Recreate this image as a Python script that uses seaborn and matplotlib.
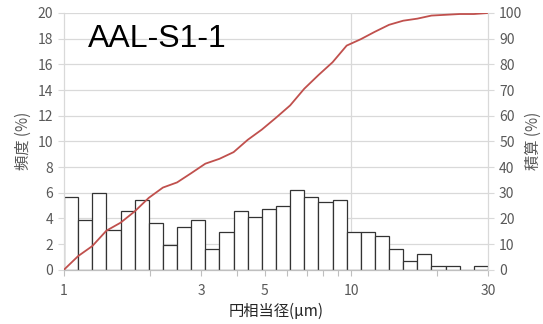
import numpy as np
import pandas as pd
import matplotlib
matplotlib.use("Agg")
import matplotlib.pyplot as plt
import seaborn as sns
from matplotlib.ticker import FixedLocator, FixedFormatter, NullFormatter, NullLocator

sns.set_theme(style="white")
plt.rcParams["font.family"] = ["Noto Sans CJK JP", "DejaVu Sans"]
plt.rcParams["axes.grid"] = False

# Particle size distribution (equivalent circle diameter, 1-30 µm, 30 log bins)
sample_name = "AAL-S1-1"
frequency = [5.7, 3.85, 6.0, 3.1, 4.55, 5.45, 3.65, 1.9, 3.35, 3.85,
             1.65, 2.9, 4.55, 4.1, 4.75, 5.0, 6.2, 5.7, 5.25, 5.45,
             2.9, 2.9, 2.65, 1.65, 0.7, 1.25, 0.25, 0.25, 0.0, 0.25]
cumulative = [0, 5.3, 9.2, 15.2, 18.3, 22.7, 28.0, 32.0, 34.0, 37.6,
              41.3, 43.2, 45.8, 50.6, 54.6, 59.2, 64.0, 70.5, 75.8, 80.8,
              87.3, 89.8, 92.7, 95.4, 97.0, 97.8, 99.0, 99.3, 99.6, 99.6, 100.0]
x_tick_labels = ["1", "3", "5", "10", "30"]
x_tick_values = [1, 3, 5, 10, 30]
x_minor_ticks = [2, 4, 6, 7, 8, 9, 20]
y_freq_ticks = list(range(0, 21, 2))
y_cum_ticks = list(range(0, 101, 10))

d_min, d_max, n_bins = 1.0, 30.0, len(frequency)
log_edges = np.linspace(np.log10(d_min), np.log10(d_max), n_bins + 1)
edges = 10 ** log_edges
centers = np.sqrt(edges[:-1] * edges[1:])

hist_df = pd.DataFrame({"diameter": centers, "freq": frequency})
cum_df = pd.DataFrame({"diameter": edges, "cum": cumulative})

grid_c = "#D9D9D9"
tick_c = "#595959"
rect = [64 / 543, 1 - 269.7 / 324, 424 / 543, 256.7 / 324]

fig = plt.figure(figsize=(5.43, 3.24), dpi=100)
ax = fig.add_axes(rect)

# frequency histogram (left axis)
sns.histplot(data=hist_df, x="diameter", weights="freq", bins=list(log_edges),
             log_scale=True, stat="count", fill=True, color="white",
             edgecolor="#333333", linewidth=0.9, alpha=1.0, ax=ax, zorder=2)

ax.set_xscale("log")
ax.set_xlim(d_min, d_max)
ax.set_ylim(0, 20)
ax.set_yticks(y_freq_ticks)
ax.xaxis.set_major_locator(FixedLocator(x_tick_values))
ax.xaxis.set_major_formatter(FixedFormatter(x_tick_labels))
ax.xaxis.set_minor_locator(FixedLocator(x_minor_ticks))
ax.xaxis.set_minor_formatter(NullFormatter())
ax.tick_params(axis="x", which="both", direction="out", length=4, width=0.8,
               color="#BFBFBF", labelcolor=tick_c, labelsize=10, pad=6,
               bottom=True, grid_alpha=0.0)
ax.tick_params(axis="y", direction="out", length=4, width=0.8, color=grid_c,
               labelcolor=tick_c, labelsize=10, pad=4, left=True, grid_alpha=0.0)
ax.grid(False, which="both")

# horizontal gridlines and the decade line at 10
for yv in y_freq_ticks[1:]:
    ax.axhline(yv, color=grid_c, linewidth=0.9, zorder=0.5)
ax.axvline(10, color=grid_c, linewidth=0.9, zorder=0.5)

for side in ["top", "right"]:
    ax.spines[side].set_visible(False)
ax.spines["left"].set_color(grid_c)
ax.spines["bottom"].set_color("#BFBFBF")
for s in ax.spines.values():
    s.set_linewidth(0.9)

ax.set_xlabel("円相当径(μm)", fontsize=11, color="#262626", labelpad=4)
ax.set_ylabel("頻度 (%)", fontsize=11, color=tick_c, labelpad=4)

# cumulative curve on an overlaid axes with its scale on the right
ax2 = fig.add_axes(rect, label="cumulative")
sns.lineplot(data=cum_df, x="diameter", y="cum", color="#C0504D",
             linewidth=1.3, sort=False, ax=ax2)
ax2.set_xscale("log")
ax2.set_xlim(d_min, d_max)
ax2.set_ylim(0, 100)
ax2.patch.set_visible(False)
ax2.xaxis.set_major_locator(NullLocator())
ax2.xaxis.set_minor_locator(NullLocator())
ax2.xaxis.set_visible(False)
ax2.yaxis.tick_right()
ax2.yaxis.set_label_position("right")
ax2.set_yticks(y_cum_ticks)
ax2.tick_params(axis="y", direction="out", length=4, width=0.8, color=grid_c,
                labelcolor=tick_c, labelsize=10, pad=4, right=True, left=False)
ax2.grid(False, which="both")
ax2.set_xlabel("")
ax2.set_ylabel("積算 (%)", fontsize=11, color=tick_c, labelpad=2, rotation=90)
for side in ["top", "left", "bottom"]:
    ax2.spines[side].set_visible(False)
ax2.spines["right"].set_color(grid_c)
ax2.spines["right"].set_linewidth(0.9)

ax.text(0.057, 0.90, sample_name, transform=ax.transAxes, fontsize=23,
        family="Liberation Sans", color="black", va="center", ha="left")

fig.savefig("out.png", dpi=100)
